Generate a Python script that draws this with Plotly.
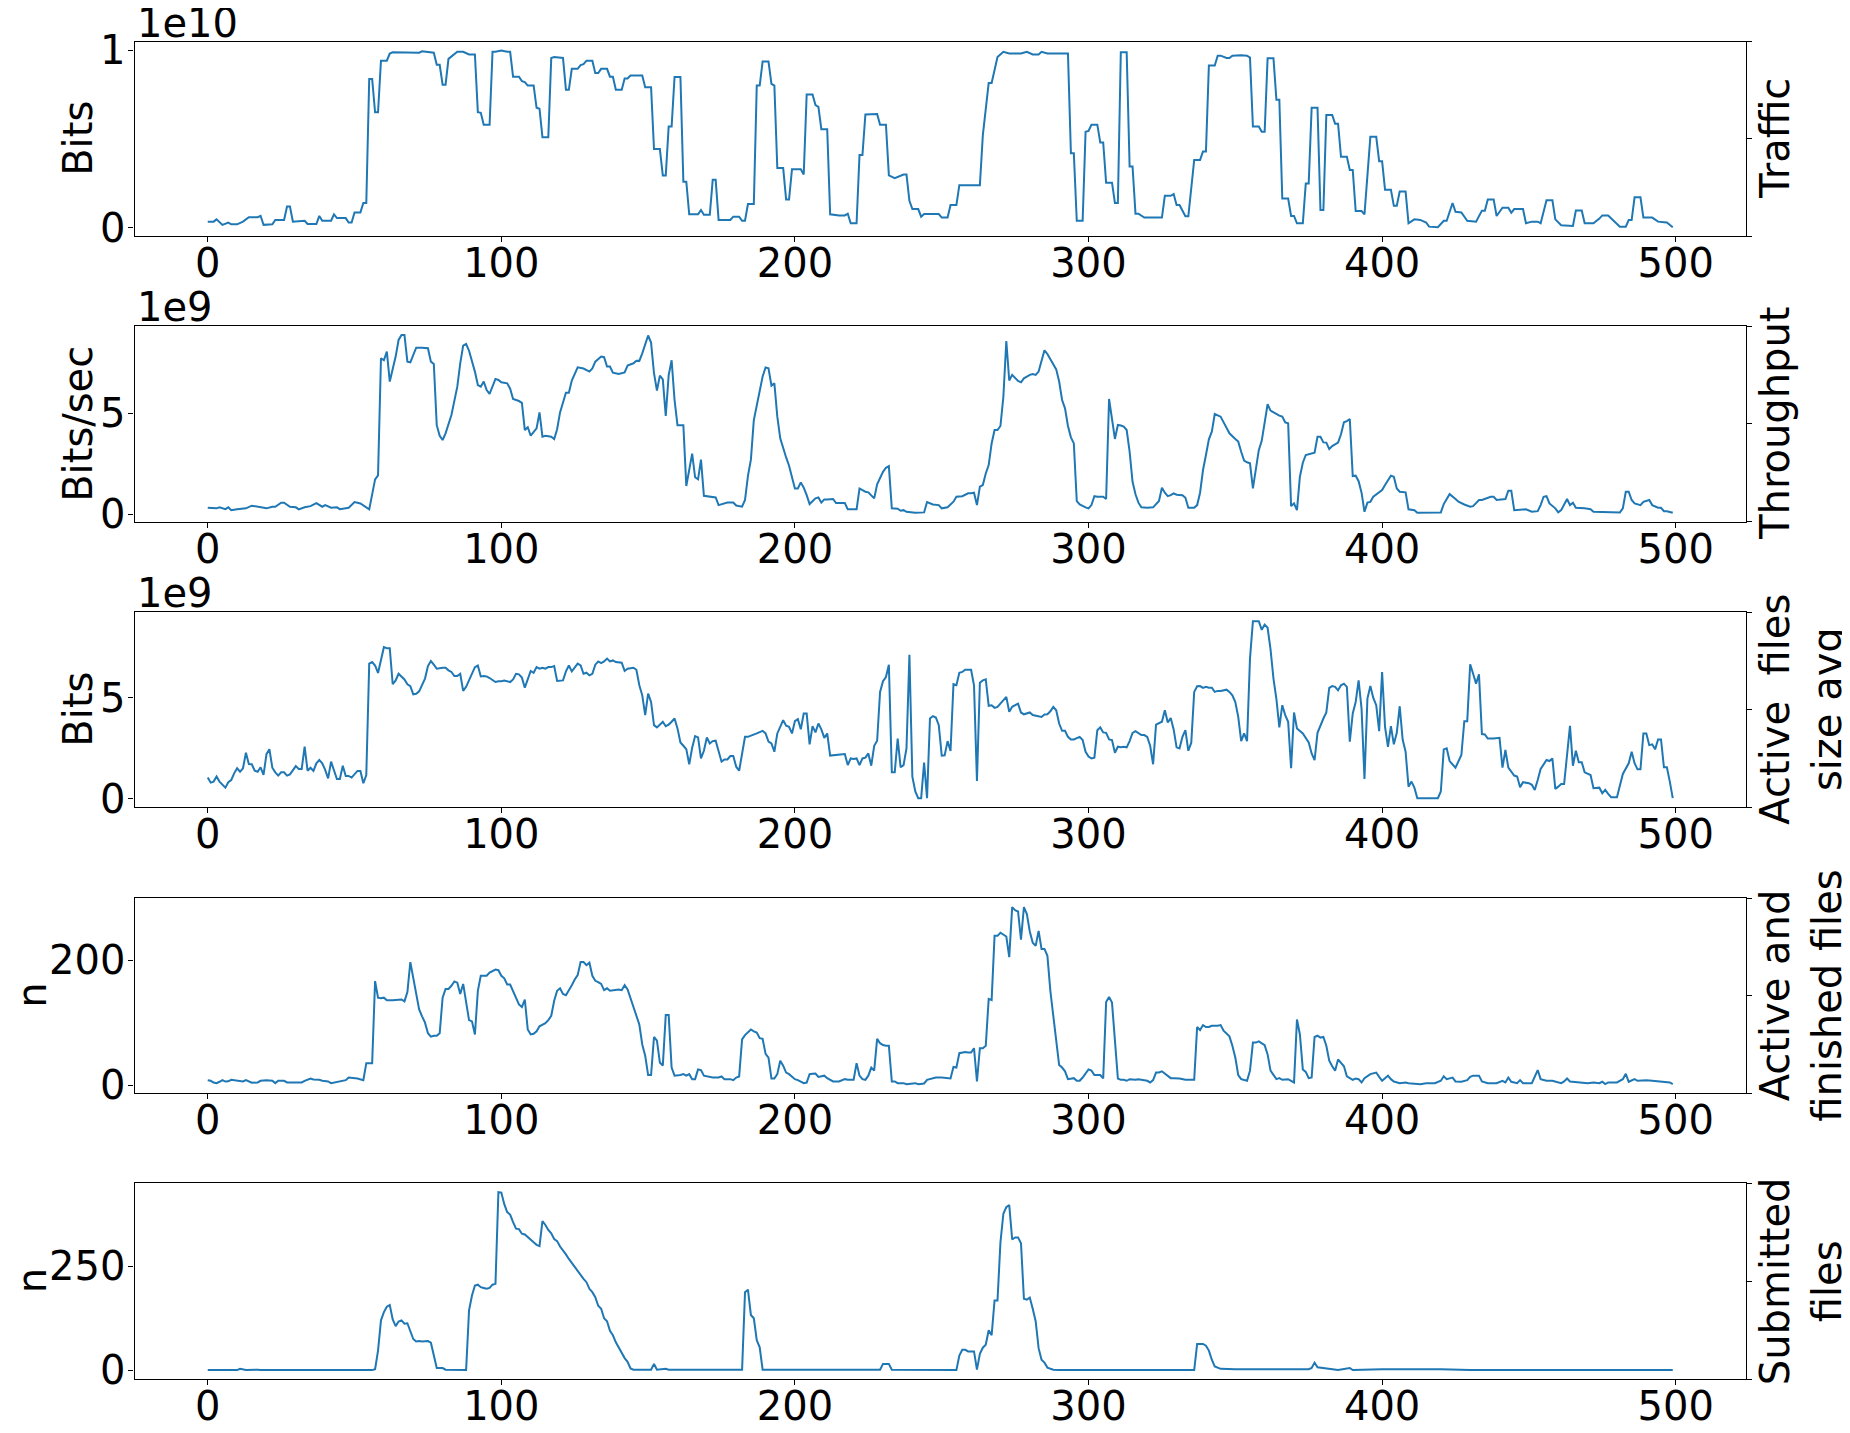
import plotly.graph_objects as go

# ---- data ----
# Traffic, in units of 1e10 bits
traffic_x = [0, 2, 3, 4, 5, 7, 8, 10, 12, 14, 17, 18, 19, 22, 23, 26, 27, 28, 29, 33, 34, 37, 38, 39, 42, 43, 44, 47, 48, 49,
             50, 52, 53, 54, 55, 56, 57, 58, 59, 61, 62, 63, 67, 72, 73, 76, 77, 78, 79, 80, 81, 82, 83, 85, 87, 89, 91, 92, 93, 94,
             96, 97, 98, 100, 102, 103, 104, 106, 107, 108, 109, 111, 112, 113, 114, 116, 117, 118, 121, 122, 123, 124, 126, 127, 128, 129, 131, 132, 133, 134,
             136, 137, 138, 139, 141, 142, 143, 144, 148, 149, 151, 152, 154, 155, 156, 157, 158, 159, 161, 162, 163, 164, 167, 168, 169, 171, 172, 173, 174, 178,
             179, 181, 182, 183, 184, 186, 187, 188, 189, 191, 192, 193, 194, 196, 197, 198, 199, 202, 203, 204, 206, 207, 208, 209, 211, 212, 215, 217, 218, 219,
             221, 222, 223, 224, 228, 229, 231, 232, 234, 237, 238, 239, 240, 242, 243, 244, 249, 250, 252, 253, 255, 256, 263, 264, 266, 267, 269, 271, 273, 275,
             277, 279, 281, 283, 284, 286, 293, 294, 295, 296, 298, 299, 300, 301, 303, 304, 305, 306, 308, 309, 310, 311, 313, 314, 315, 316, 317, 319, 325, 326,
             328, 329, 330, 331, 333, 334, 336, 338, 339, 340, 341, 343, 344, 345, 347, 348, 349, 352, 354, 355, 356, 358, 359, 360, 361, 363, 364, 365, 366, 368,
             369, 370, 371, 373, 374, 375, 376, 378, 379, 380, 381, 383, 384, 385, 386, 388, 389, 390, 391, 393, 394, 396, 398, 399, 400, 401, 403, 404, 405, 406,
             408, 409, 411, 413, 415, 416, 419, 421, 422, 424, 425, 427, 429, 432, 434, 435, 436, 438, 439, 441, 443, 444, 445, 448, 449, 451, 453, 454, 456, 458,
             459, 461, 465, 466, 468, 469, 472, 474, 475, 477, 479, 481, 483, 484, 485, 486, 488, 489, 492, 494, 496, 497, 499]
traffic_y = [.035, .035, .048, .035, .017, .03, .02, .02, .035, .06, .06, .068, .017, .02, .045, .045, .12, .12, .035, .04, .022, .022, .067, .04, .04, .076, .055, .055, .03, .03,
             .087, .087, .14, .14, .837, .837, .65, .65, .94, .94, .98, .987, .987, .985, .993, .985, .985, .917, .917, .805, .805, .95, .963, .99, .99, .975, .975, .65, .647, .58,
             .58, .99, .99, .997, .99, .99, .85, .85, .825, .82, .80, .80, .675, .67, .51, .51, .955, .96, .955, .777, .777, .894, .894, .915, .92, .94, .94, .87, .87, .894,
             .894, .85, .85, .777, .777, .84, .84, .857, .857, .79, .79, .443, .443, .295, .295, .57, .57, .848, .848, .26, .26, .076, .076, .1, .074, .074, .27, .27, .045, .045,
             .063, .063, .04, .04, .134, .134, .80, .80, .935, .935, .81, .80, .336, .336, .16, .16, .33, .33, .3, .75, .75, .69, .68, .555, .555, .076, .07, .07, .08, .026,
             .026, .41, .41, .638, .64, .58, .58, .295, .28, .3, .3, .152, .106, .106, .063, .078, .078, .058, .058, .128, .128, .24, .24, .52, .815, .815, .96, .99, .98, .98,
             .98, .99, .975, .975, .99, .98, .98, .42, .42, .04, .04, .54, .545, .58, .58, .48, .48, .254, .254, .14, .14, .987, .987, .345, .345, .08, .08, .058, .058, .18,
             .18, .19, .128, .128, .065, .065, .382, .382, .43, .43, .913, .913, .968, .968, .955, .955, .968, .97, .968, .957, .57, .57, .54, .54, .954, .954, .72, .72, .165, .165,
             .067, .067, .026, .026, .25, .25, .675, .675, .10, .10, .635, .635, .586, .586, .40, .40, .326, .326, .095, .095, .076, .512, .512, .375, .375, .215, .215, .124, .124, .204,
             .204, .026, .048, .045, .03, .007, .004, .04, .04, .14, .09, .087, .04, .035, .097, .097, .16, .16, .067, .113, .113, .085, .106, .106, .026, .035, .035, .026, .156, .156,
             .048, .015, .011, .098, .098, .026, .026, .052, .07, .07, .041, .007, .007, .044, .044, .172, .172, .058, .058, .035, .032, .03, .004]

# Throughput, in units of 1e9 bits/sec
throughput_x = [0, 1, 3, 4, 6, 7, 8, 10, 13, 15, 18, 20, 22, 23, 25, 26, 28, 30, 31, 33, 35, 37, 39, 40, 42, 44, 45, 48, 50, 52,
                55, 57, 58, 59, 60, 61, 62, 64, 65, 66, 67, 68, 69, 71, 73, 75, 76, 77, 78, 79, 80, 81, 83, 85, 86, 87, 88, 89, 91, 92,
                93, 94, 95, 96, 98, 99, 100, 102, 103, 104, 106, 107, 108, 109, 110, 112, 113, 114, 115, 117, 118, 119, 120, 122, 123, 124, 126, 128, 130, 131,
                132, 134, 135, 136, 137, 138, 140, 142, 143, 145, 146, 147, 148, 150, 151, 152, 153, 154, 155, 156, 157, 158, 159, 160, 162, 163, 165, 166, 167, 168,
                169, 171, 173, 174, 176, 177, 179, 180, 182, 183, 184, 185, 186, 188, 189, 190, 191, 192, 193, 194, 195, 197, 198, 200, 201, 202, 203, 204, 205, 207,
                208, 209, 210, 211, 213, 214, 217, 218, 221, 222, 224, 225, 227, 228, 230, 231, 232, 233, 235, 236, 237, 238, 241, 244, 245, 247, 249, 250, 252, 254,
                255, 257, 259, 260, 261, 262, 263, 264, 265, 266, 267, 268, 269, 270, 271, 272, 273, 274, 275, 276, 277, 278, 279, 280, 281, 282, 283, 285, 286, 287,
                289, 290, 291, 292, 293, 294, 295, 296, 297, 299, 300, 301, 302, 303, 305, 306, 307, 309, 310, 311, 312, 313, 314, 315, 316, 317, 318, 320, 322, 324,
                325, 326, 327, 328, 329, 330, 332, 333, 334, 336, 337, 338, 339, 340, 341, 342, 343, 345, 346, 347, 348, 350, 351, 352, 353, 354, 355, 356, 357, 358,
                359, 360, 361, 362, 364, 365, 366, 367, 368, 369, 370, 371, 372, 373, 374, 375, 377, 378, 379, 380, 381, 382, 383, 385, 386, 387, 388, 389, 390, 391,
                392, 393, 394, 395, 396, 397, 399, 400, 401, 403, 404, 405, 406, 408, 409, 411, 412, 420, 421, 423, 425, 426, 428, 430, 431, 433, 434, 437, 438, 439,
                442, 443, 444, 445, 449, 451, 453, 454, 455, 456, 457, 459, 460, 461, 463, 464, 465, 466, 469, 471, 472, 477, 481, 482, 483, 484, 485, 486, 487, 488,
                489, 491, 492, 494, 495, 496, 497, 499]
throughput_y = [.33, .33, .3, .35, .26, .35, .21, .25, .3, .43, .35, .3, .38, .38, .58, .58, .38, .35, .25, .35, .41, .56, .38, .46, .33, .35, .26, .33, .61, .54,
                .25, 1.73, 1.92, 7.7, 7.6, 8.03, 6.55, 7.78, 8.6, 8.85, 8.85, 7.53, 7.5, 8.22, 8.22, 8.19, 7.53, 7.42, 4.4, 3.88, 3.67, 4.0, 4.9, 6.3, 7.45, 8.32, 8.4, 8.07, 7.04, 6.38,
                6.3, 6.55, 6.13, 5.94, 6.68, 6.63, 6.51, 6.46, 6.2, 5.69, 5.59, 5.5, 4.16, 4.3, 3.88, 4.24, 5.03, 3.83, 3.88, 3.83, 3.72, 4.2, 5.03, 6.0, 6.0, 6.6, 7.25, 7.19, 7.04, 7.2,
                7.53, 7.78, 7.75, 7.29, 7.29, 6.99, 6.92, 7.0, 7.34, 7.45, 7.58, 7.57, 7.94, 8.82, 8.47, 6.96, 6.1, 6.84, 6.66, 4.85, 6.87, 7.6, 5.64, 4.4, 4.4, 1.4, 3.0, 1.83, 1.73, 2.7,
                .92, .87, .84, .46, .54, .59, .59, .44, .38, .71, 1.9, 2.7, 4.65, 6.17, 6.8, 7.24, 7.2, 6.35, 6.46, 4.82, 3.75, 2.81, 2.4, 1.28, 1.28, 1.58, 1.32, .95, .51, .79,
                .84, .58, .74, .74, .76, .56, .56, .25, .25, 1.28, 1.12, 1.09, .79, 1.48, 2.1, 2.3, 2.38, .3, .28, .18, .21, .13, .08, .1, .61, .49, .46, .3, .35, .63,
                .87, .9, 1.04, 1.04, 1.07, .46, 1.37, 1.45, 2.02, 2.43, 3.5, 4.16, 4.16, 4.36, 5.8, 8.55, 6.6, 6.88, 6.74, 6.58, 6.51, 6.71, 6.79, 6.88, 6.92, 6.88, 7.04, 8.09, 7.91, 7.65,
                7.15, 6.55, 5.64, 5.23, 4.36, 3.8, 3.5, .66, .49, .35, .3, .46, .9, .87, .87, .76, 5.69, 3.72, 4.41, 4.38, 4.33, 4.16, 3.09, 1.61, .99, .58, .35, .33, .35, .66,
                1.32, 1.07, .9, .95, 1.04, .97, .95, .82, .33, .33, .46, 1.07, 2.19, 2.93, 3.7, 4.08, 4.95, 4.82, 4.57, 4.3, 4.0, 3.72, 3.59, 3.09, 2.65, 2.57, 2.52, 1.28, 2.27, 3.17,
                3.63, 4.65, 5.43, 5.12, 4.93, 4.87, 4.82, 4.54, 4.49, .41, .54, .21, 1.86, 2.55, 2.93, 2.96, 3.04, 3.83, 3.83, 3.55, 3.54, 3.22, 3.37, 3.54, 3.95, 4.54, 4.6, 4.7, 1.89, 1.91,
                1.64, 1.07, .13, .58, .62, .87, 1.07, 1.2, 1.45, 1.91, 1.86, 1.28, 1.12, 1.09, .25, .21, .08, .1, .51, 1.0, .76, .63, .49, .38, .41, .71, .71, .87, .87, .71,
                .76, 1.17, 1.17, .21, .25, .13, .16, .46, .87, .9, .54, .3, .1, .21, .76, .46, .58, .33, .3, .26, .13, .1, .1, .3, 1.12, 1.12, .71, .54, .49, .46,
                .62, .71, .46, .33, .33, .16, .16, .08]

# Active files size avg, in units of 1e9 bits
size_x = [0, 1, 2, 3, 4, 5, 6, 7, 8, 9, 10, 11, 12, 13, 14, 15, 16, 17, 18, 19, 20, 21, 22, 23, 24, 25, 26, 27, 28, 30,
          31, 32, 33, 34, 35, 36, 37, 38, 39, 40, 41, 42, 43, 44, 45, 46, 47, 48, 49, 50, 51, 52, 53, 54, 55, 56, 57, 58, 59, 60,
          61, 62, 63, 64, 65, 66, 67, 68, 69, 70, 71, 72, 73, 74, 75, 76, 77, 78, 80, 81, 82, 83, 84, 85, 86, 87, 88, 89, 90, 91,
          92, 93, 94, 95, 96, 97, 98, 99, 100, 101, 102, 103, 104, 105, 106, 107, 108, 109, 110, 111, 112, 113, 114, 115, 116, 117, 118, 119, 120, 121,
          122, 123, 124, 125, 126, 127, 128, 129, 130, 131, 132, 133, 134, 135, 136, 137, 138, 139, 140, 141, 142, 143, 145, 146, 147, 148, 149, 150, 151, 152,
          153, 154, 155, 156, 157, 158, 159, 160, 161, 162, 163, 164, 165, 166, 167, 168, 169, 170, 171, 172, 173, 175, 176, 177, 178, 179, 180, 181, 182, 183,
          184, 185, 187, 189, 190, 191, 192, 193, 194, 196, 197, 198, 199, 200, 201, 202, 203, 204, 205, 206, 207, 208, 209, 210, 211, 212, 215, 217, 218, 219,
          220, 221, 222, 223, 224, 225, 226, 227, 228, 229, 230, 231, 232, 233, 234, 235, 236, 237, 238, 239, 240, 241, 242, 243, 244, 245, 246, 247, 248, 249,
          250, 251, 252, 253, 254, 255, 256, 257, 258, 260, 261, 262, 263, 264, 265, 266, 267, 268, 269, 270, 272, 273, 274, 276, 277, 278, 280, 281, 282, 284,
          285, 286, 287, 288, 289, 290, 291, 292, 293, 294, 295, 297, 298, 299, 300, 301, 302, 303, 304, 305, 306, 307, 308, 309, 310, 311, 312, 313, 314, 315,
          316, 318, 319, 320, 321, 322, 323, 325, 326, 327, 328, 329, 330, 331, 332, 333, 334, 335, 336, 337, 338, 339, 340, 341, 342, 343, 344, 345, 347, 348,
          349, 350, 351, 352, 353, 354, 355, 356, 358, 359, 360, 361, 362, 363, 364, 365, 366, 367, 368, 369, 370, 371, 373, 374, 375, 376, 377, 378, 379, 380,
          381, 382, 383, 384, 385, 386, 387, 388, 389, 390, 391, 392, 393, 394, 395, 396, 397, 398, 399, 400, 401, 402, 403, 404, 405, 406, 407, 408, 409, 410,
          411, 412, 419, 420, 421, 422, 423, 424, 425, 427, 428, 429, 430, 431, 432, 433, 434, 435, 436, 438, 439, 440, 441, 442, 443, 444, 445, 446, 447, 448,
          450, 451, 452, 453, 454, 456, 457, 458, 459, 460, 461, 462, 463, 464, 465, 466, 467, 468, 469, 470, 471, 472, 473, 474, 475, 476, 477, 478, 480, 481,
          482, 484, 485, 486, 487, 488, 489, 490, 491, 492, 493, 494, 495, 496, 497, 498, 499]
size_y = [1.04, .79, .84, 1.09, .84, .68, .54, .81, .92, 1.25, 1.5, 1.33, 1.5, 2.27, 1.71, 1.7, 1.38, 1.33, 1.55, 1.17, 2.2, 2.45, 1.53, 1.3, 1.14, 1.3, 1.3, 1.14, 1.2, 1.61,
          1.47, 1.47, 2.57, 1.38, 1.53, 1.37, 1.75, 1.91, 1.75, 1.42, 1.0, 1.83, 1.38, .97, .97, 1.63, 1.12, 1.12, 1.04, 1.22, 1.37, 1.37, .76, 1.17, 6.69, 6.77, 6.6, 6.23, 6.94, 7.51,
          7.46, 7.46, 5.67, 5.86, 6.19, 6.03, 5.91, 5.67, 5.58, 5.17, 5.2, 5.32, 5.62, 5.95, 6.57, 6.82, 6.64, 6.44, 6.49, 6.49, 6.36, 6.28, 6.08, 6.08, 6.19, 5.34, 5.54, 5.86, 6.19, 6.52,
          6.6, 6.06, 6.08, 6.06, 5.98, 5.9, 5.78, 5.82, 5.82, 5.86, 5.82, 5.78, 5.91, 6.19, 6.16, 6.0, 5.5, 5.95, 6.33, 6.24, 6.52, 6.44, 6.49, 6.44, 6.52, 6.52, 6.57, 5.83, 5.86, 5.86,
          6.31, 6.6, 6.31, 6.52, 6.69, 6.6, 6.19, 6.24, 6.11, 6.19, 6.64, 6.8, 6.72, 6.8, 6.94, 6.8, 6.85, 6.77, 6.77, 6.74, 6.33, 6.44, 6.49, 6.39, 5.62, 5.12, 4.14, 5.21, 4.79, 3.64,
          3.53, 3.69, 3.81, 3.59, 3.67, 3.81, 3.97, 3.48, 2.78, 2.62, 2.45, 1.7, 2.52, 3.1, 3.03, 1.99, 2.37, 3.03, 2.73, 2.85, 2.87, 1.83, 1.94, 1.94, 2.11, 2.11, 1.58, 1.38, 2.32, 3.06,
          3.06, 3.11, 3.23, 3.36, 3.23, 2.82, 2.73, 2.32, 3.23, 3.89, 3.61, 3.56, 3.23, 3.84, 3.94, 3.44, 4.22, 4.22, 2.69, 3.59, 3.28, 3.72, 3.43, 3.01, 3.23, 2.13, 2.16, 2.21, 1.66, 1.99,
          1.96, 1.99, 1.66, 1.99, 2.03, 2.24, 1.63, 2.62, 2.87, 5.29, 5.82, 6.03, 6.64, 1.3, 1.3, 2.98, 1.55, 1.66, 2.49, 7.13, 1.09, .35, .02, .02, 1.78, .02, 3.97, 4.09, 4.02, 3.64,
          2.13, 2.14, 2.85, 2.36, 5.67, 5.62, 6.24, 6.28, 6.39, 6.39, 5.62, .87, 5.75, 5.86, 5.91, 4.6, 4.63, 4.5, 4.55, 4.71, 5.04, 4.3, 4.55, 4.71, 4.27, 4.18, 4.27, 4.14, 4.1, 4.05,
          4.17, 4.18, 4.33, 4.55, 4.38, 3.72, 3.36, 3.36, 3.06, 2.93, 2.93, 3.06, 2.9, 2.32, 2.08, 1.99, 2.03, 3.39, 3.53, 3.28, 3.26, 2.93, 2.9, 2.27, 2.57, 2.54, 2.57, 2.54, 2.85, 3.26,
          3.34, 3.15, 3.15, 3.06, 2.62, 1.7, 3.67, 3.81, 4.38, 3.77, 4.0, 3.43, 2.54, 2.49, 3.06, 3.39, 2.37, 2.77, 5.29, 5.57, 5.58, 5.49, 5.54, 5.5, 5.5, 5.29, 5.34, 5.34, 5.4, 5.29,
          5.12, 4.79, 4.05, 2.85, 3.23, 2.85, 6.94, 8.8, 8.8, 8.37, 8.63, 8.47, 7.4, 5.95, 4.93, 3.53, 4.63, 4.14, 3.81, 1.5, 4.27, 3.48, 3.23, 3.01, 2.78, 2.24, 1.91, 3.26, 3.64, 3.97,
          4.27, 5.49, 5.58, 5.54, 5.37, 5.62, 5.7, 5.54, 2.82, 4.22, 4.79, 5.86, 4.46, .97, 4.96, 5.58, 4.99, 4.63, 3.34, 6.28, 3.56, 2.57, 3.59, 2.69, 3.26, 4.58, 2.93, 2.32, .59, .84,
          .54, .02, .02, .35, 2.44, 2.49, 1.86, 1.7, 1.53, 2.16, 3.84, 3.84, 6.66, 6.19, 5.7, 6.16, 3.2, 3.18, 2.98, 2.98, 3.01, 3.01, 1.53, 2.41, 1.53, 1.33, 1.14, 1.09, .56, .81,
          .76, .68, .43, .92, 1.47, 1.91, 1.86, 1.99, .48, .59, .72, .72, 2.24, 3.61, 1.63, 2.37, 1.8, 1.8, 1.3, 1.25, 1.17, .51, .51, .54, .26, .43, .23, .07, .07, .68,
          1.22, 1.75, 2.32, 1.75, 1.45, 1.45, 3.23, 3.23, 2.65, 2.69, 2.44, 2.93, 2.93, 1.55, 1.55, .84, .02]

# Active and finished files, count
files_x = [0, 1, 2, 3, 4, 5, 6, 7, 8, 10, 12, 13, 15, 17, 18, 20, 22, 23, 24, 26, 27, 30, 32, 33, 35, 36, 38, 39, 41, 42,
           44, 46, 47, 48, 50, 51, 53, 54, 56, 57, 58, 59, 60, 61, 63, 65, 66, 67, 68, 69, 70, 71, 72, 73, 74, 75, 76, 77, 78, 79,
           80, 81, 82, 83, 84, 85, 86, 87, 88, 89, 90, 91, 92, 93, 94, 95, 96, 98, 99, 100, 101, 102, 103, 105, 106, 107, 108, 109, 110, 111,
           112, 113, 114, 115, 116, 117, 118, 119, 120, 121, 122, 123, 124, 125, 126, 127, 128, 129, 130, 131, 132, 133, 134, 135, 136, 137, 139, 140, 141, 142,
           143, 144, 146, 147, 148, 149, 150, 151, 152, 153, 154, 155, 156, 157, 158, 159, 161, 162, 163, 164, 165, 166, 167, 168, 169, 171, 172, 174, 175, 176,
           178, 179, 180, 181, 182, 183, 184, 185, 186, 187, 188, 189, 190, 191, 192, 193, 194, 195, 196, 197, 198, 199, 200, 201, 203, 204, 205, 206, 207, 208,
           209, 210, 211, 212, 213, 215, 217, 218, 220, 221, 222, 223, 224, 225, 226, 227, 228, 229, 230, 231, 232, 233, 234, 235, 237, 238, 240, 241, 242, 244,
           245, 247, 248, 250, 252, 253, 254, 255, 256, 258, 259, 260, 261, 262, 263, 264, 265, 266, 267, 268, 269, 270, 272, 273, 274, 275, 276, 277, 278, 279,
           280, 281, 282, 283, 284, 285, 286, 287, 288, 289, 290, 291, 292, 293, 295, 296, 297, 298, 300, 301, 302, 304, 305, 306, 307, 308, 309, 310, 311, 312,
           313, 314, 316, 317, 319, 320, 321, 322, 323, 324, 325, 326, 328, 329, 331, 333, 335, 336, 337, 338, 339, 340, 341, 342, 344, 345, 346, 348, 349, 350,
           351, 352, 354, 355, 356, 357, 358, 360, 361, 362, 364, 365, 366, 368, 369, 370, 371, 372, 373, 374, 375, 376, 377, 378, 379, 380, 381, 382, 383, 384,
           385, 386, 387, 388, 390, 391, 392, 393, 394, 396, 397, 398, 399, 400, 401, 402, 403, 404, 406, 408, 409, 411, 413, 415, 418, 420, 421, 422, 424, 425,
           427, 429, 430, 431, 433, 434, 436, 439, 441, 442, 443, 444, 446, 447, 448, 451, 453, 454, 456, 458, 459, 461, 462, 463, 464, 467, 470, 472, 474, 475,
           476, 477, 480, 482, 483, 484, 485, 486, 487, 490, 492, 494, 496, 498, 499]
files_y = [7.8, 6.8, 4, 3, 5.2, 8, 5.5, 6, 8.4, 6.8, 5.7, 7.8, 3.6, 4.1, 6.8, 7.8, 6.8, 3.0, 6.8, 6.8, 4.1, 4.1, 4.1, 6.8, 10.5, 8.9, 8.4, 6.8, 5.7, 3.0,
           4.6, 6.8, 7.8, 12, 11, 10.5, 7.8, 35, 35, 166.6, 140, 139, 140, 136, 136, 137, 137, 134, 149, 197, 172, 151, 121, 110, 100, 83, 77.5, 79, 79, 83,
           140, 154, 154, 159, 166, 164, 146, 162, 132, 104, 102, 81, 151, 175, 175, 175, 180, 185, 184, 175, 171, 161, 161, 139, 129, 125, 137, 89, 81, 82,
           86, 94, 96, 99, 104, 111, 135, 151, 155, 146, 144, 151, 160, 169, 176, 197, 197, 192, 196, 175, 167, 165, 162, 152, 155, 151, 152, 153, 152, 160,
           153, 139, 111, 97, 65, 47, 16, 16, 77, 71, 36, 31, 112, 112, 28, 15, 16, 17.4, 15, 17.4, 9.4, 9.4, 25, 24, 15, 13, 12, 12, 13.7, 9.4,
           9.4, 7.8, 12, 13.7, 73, 80, 84, 89, 86, 84, 75, 74, 50, 44, 10.5, 10.5, 17.4, 39, 31, 20, 17.4, 13.7, 9.4, 7.8, 3, 4, 17.4, 18, 18.5, 13,
           14, 15, 11, 8, 5.7, 5.7, 9.4, 8.4, 8.4, 35, 15, 9.4, 8.4, 15, 28, 23, 74, 67, 64, 63, 63, 5.7, 5.7, 3, 3, 1.4, 3, 3, 1.4, 2.5,
           8.4, 10.5, 12, 12, 10.5, 10.5, 29, 28, 51, 53, 52, 52, 59, 5.7, 59, 59, 63, 138, 136, 239, 239, 244, 238, 205, 285, 280, 278, 233, 285, 274,
           246, 228, 223, 247, 218, 218, 207, 151, 111, 73, 32, 28, 22, 9.4, 11, 6.8, 6.8, 12, 25, 23, 16, 16, 10.5, 133, 141, 132, 73, 10.5, 8.3, 8.3,
           6.8, 9.4, 8.3, 9.4, 7.8, 6.8, 4.1, 7.8, 20, 20, 22, 18.5, 11, 11, 10.5, 8.3, 8.3, 8.3, 93, 88, 96, 93, 93, 95, 95, 96, 87, 78, 63, 44,
           16, 9.4, 6.8, 23, 68, 68, 70, 64, 49, 23, 9.4, 11, 8.3, 9.4, 6.8, 4.1, 105, 81, 25, 21, 11, 12, 77, 79, 76, 77, 63, 39, 30, 23,
           41, 36, 30, 14, 8.3, 10.5, 9.4, 4.1, 11, 17.4, 19, 20, 13, 6.8, 11, 15, 9.4, 5.7, 3, 4.1, 3, 2.5, 1.4, 3, 3, 6.8, 14, 9.4, 12, 5.7,
           5.2, 7.8, 13, 15, 15, 5.7, 3, 3, 6.8, 4.1, 12, 5.2, 3, 7.8, 3, 3, 24, 9.4, 6.8, 6.8, 5.7, 3, 5.7, 10.5, 5.7, 4.1, 3, 4.1, 3, 5.2,
           1.4, 4.1, 4.1, 9.4, 18, 5.2, 6.8, 9.4, 6.8, 7.8, 6.8, 5.7, 4.1, 4.1, 1.4]

# Submitted files, count
submitted_x = [0, 10, 11, 12, 13, 17, 18, 25, 38, 39, 56, 57, 58, 59, 60, 61, 62, 63, 64, 65, 66, 67, 68, 69, 70, 71, 72, 73, 75, 76,
               77, 78, 80, 81, 88, 89, 90, 91, 92, 93, 94, 95, 96, 97, 98, 99, 100, 101, 102, 103, 104, 105, 106, 107, 108, 109, 110, 111, 112, 113,
               114, 115, 116, 117, 118, 119, 120, 121, 122, 123, 124, 125, 126, 127, 128, 129, 130, 131, 132, 133, 134, 135, 136, 137, 138, 139, 140, 141, 142, 143,
               144, 145, 151, 152, 153, 156, 157, 182, 183, 184, 185, 186, 187, 188, 189, 229, 230, 231, 232, 233, 255, 256, 257, 258, 259, 261, 262, 263, 264, 265,
               266, 267, 268, 269, 270, 271, 272, 273, 274, 275, 276, 277, 278, 279, 280, 281, 282, 283, 284, 285, 286, 288, 290, 336, 337, 339, 340, 341, 342, 343,
               345, 350, 375, 376, 377, 378, 380, 383, 385, 389, 390, 400, 420, 430, 499]
submitted_y = [0, 0, 3, 1, 0, 1, 0, 0, 1, 0, 0, 2, 47, 120, 140, 153, 157, 122, 106, 117, 120, 112, 113, 96, 75, 69, 70, 69, 70, 66,
               31, 5, 5, 1, 0, 144, 180, 204, 206, 200, 198, 196, 198, 206, 208, 429, 428, 400, 381, 375, 357, 341, 340, 329, 327, 320, 314, 308, 302, 299,
               359, 350, 338, 330, 316, 311, 298, 289, 279, 268, 258, 248, 238, 230, 220, 212, 196, 188, 176, 155, 148, 125, 118, 95, 84, 67, 55, 40, 29, 20,
               4, 1, 1, 15, 1, 3, 1, 1, 188, 194, 133, 125, 72, 55, 1, 1, 15, 15, 15, 1, 0, 35, 49, 49, 45, 45, 1, 39, 54, 61,
               96, 84, 168, 168, 308, 377, 393, 398, 315, 320, 320, 306, 172, 170, 175, 148, 118, 53, 25, 18, 6, 1, 0, 0, 63, 63, 59, 47, 25, 9,
               3, 2, 2, 5, 18, 7, 5, 3, 0, 5, 0, 2, 2, 0, 0]

x_ticks = [0, 100, 200, 300, 400, 500]

# ---- figure ----
W, H = 1850, 1433
OFF = 8  # the page body margin shifts the plot by this many px
BLUE = "#1f77b4"
FONT = dict(family="DejaVu Sans", size=40, color="black")

panels = [
    (traffic_x, traffic_y, "Bits", "Traffic", [0, 1], "1e10", 78),
    (throughput_x, throughput_y, "Bits/sec", "Throughput", [0, 5], "1e9", 78),
    (size_x, size_y, "Bits", "Active \u00a0files<br>size avg", [0, 5], "1e9", 78),
    (files_x, files_y, "n", "Active and<br>finished files", [0, 200], None, 32),
    (submitted_x, submitted_y, "n", "Submitted<br>files", [0, 250], None, 32),
]

# pixel frame of every panel in the reference
left_px, right_px = 134.5 - OFF, 1746 - OFF
tops = [t - OFF for t in [41.7, 326, 612.3, 898.3, 1183.3]]
bottoms = [b - OFF for b in [236, 521.7, 807, 1093, 1379]]
right_label_left = 1750 - OFF

fig = go.Figure()
layout = dict(width=W, height=H, margin=dict(l=0, r=0, t=0, b=0, autoexpand=False),
              paper_bgcolor="white", plot_bgcolor="white", showlegend=False,
              font=FONT, annotations=[])

axis_common = dict(showline=True, linecolor="black", linewidth=1.1, mirror=True,
                   ticks="outside", ticklen=5, tickwidth=1.1, tickcolor="black",
                   showgrid=False, zeroline=False, tickfont=FONT, automargin=False)

for i, (xs, ys, ylab, rlab, yt, offset, ylab_x) in enumerate(panels):
    n = i + 1
    xname = "x" if n == 1 else f"x{n}"
    yname = "y" if n == 1 else f"y{n}"
    rname = f"y{n + 5}"
    dom = [1 - bottoms[i] / H, 1 - tops[i] / H]
    mid = (dom[0] + dom[1]) / 2

    lo, hi = min(ys), max(ys)
    pad = 0.05 * (hi - lo)

    fig.add_trace(go.Scatter(x=xs, y=ys, mode="lines", line=dict(color=BLUE, width=2),
                             xaxis=xname, yaxis=yname, hoverinfo="skip"))
    # empty trace so the right-hand tick axis is drawn
    fig.add_trace(go.Scatter(x=[None], y=[None], mode="lines", xaxis=xname, yaxis=rname,
                             hoverinfo="skip"))

    layout["xaxis" if n == 1 else f"xaxis{n}"] = dict(
        axis_common, domain=[left_px / W, right_px / W], anchor=yname,
        range=[-24.95, 523.95], tickvals=x_ticks, ticklabelstandoff=-13)
    layout["yaxis" if n == 1 else f"yaxis{n}"] = dict(
        axis_common, domain=dom, anchor=xname, range=[lo - pad, hi + pad],
        tickvals=yt, ticklabelstandoff=-5)
    layout[f"yaxis{n + 5}"] = dict(
        axis_common, overlaying=yname, anchor=xname, side="right", range=[0, 1],
        tickvals=[0, 0.5, 1], showticklabels=False, mirror=False)

    # left and right axis labels
    layout["annotations"].append(dict(
        text=ylab, xref="paper", yref="paper", x=(ylab_x - OFF) / W, y=mid,
        xanchor="center", yanchor="middle", textangle=-90, showarrow=False, font=FONT))
    layout["annotations"].append(dict(
        text=rlab, xref="paper", yref="paper", x=right_label_left / W, y=mid,
        xanchor="left", yanchor="middle", textangle=-90, showarrow=False, font=FONT))

    if offset:
        layout["annotations"].append(dict(
            text=offset, xref="paper", yref="paper", x=left_px / W, y=dom[1],
            xanchor="left", yanchor="bottom", showarrow=False, font=FONT, yshift=-6))

fig.update_layout(**layout)
fig.write_html("out.html")
